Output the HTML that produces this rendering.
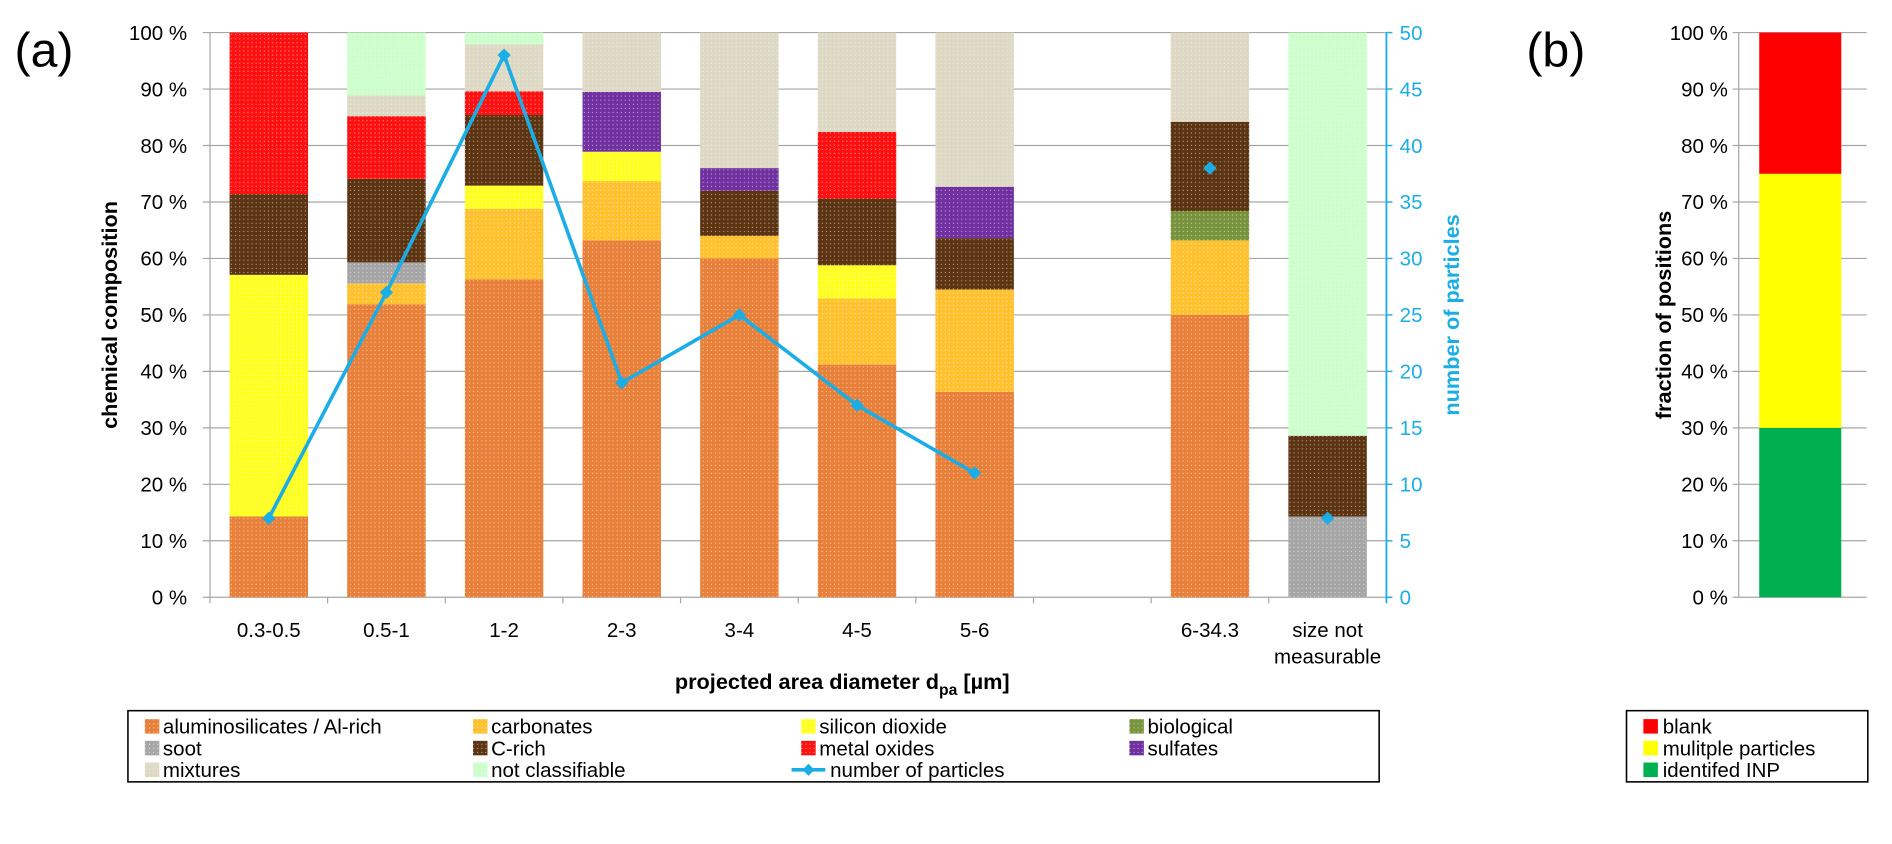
<!DOCTYPE html>
<html><head><meta charset="utf-8">
<style>
html,body{margin:0;padding:0;background:#fff;}
svg{display:block;font-family:"Liberation Sans",Arial,sans-serif;}
</style></head>
<body>
<svg id="chart" width="1892" height="844" viewBox="0 0 1568 699.5" xmlns="http://www.w3.org/2000/svg">
<defs>
<pattern id="dots" width="3.4" height="3.4" patternUnits="userSpaceOnUse">
<rect x="1" y="1" width="0.9" height="0.9" fill="#fff" opacity="0.55"/>
</pattern>
</defs>
<g id="plotA"></g>
<g id="plotB"></g>
</svg>
<script>
const categories = ["0.3-0.5","0.5-1","1-2","2-3","3-4","4-5","5-6","","6-34.3","size not|measurable"];
const seriesNames = ["aluminosilicates / Al-rich","carbonates","silicon dioxide","biological","soot","C-rich","metal oxides","sulfates","mixtures","not classifiable"];
const seriesColors = ["#E8803A","#FFC12E","#FFFF22","#77933C","#A6A6A6","#5C3412","#FF1010","#7030A0","#DDD9C4","#CCFFCC"];
const alum      = [14.3,51.9,56.3,63.2,60.0,41.2,36.4,0,50.0,0];
const carb      = [0,3.7,12.5,10.5,4.0,11.7,18.1,0,13.2,0];
const silicon   = [42.8,0,4.1,5.2,0,5.9,0,0,0,0];
const bio       = [0,0,0,0,0,0,0,0,5.2,0];
const soot      = [0,3.7,0,0,0,0,0,0,0,14.3];
const crich     = [14.3,14.8,12.5,0,8.0,11.8,9.1,0,15.8,14.3];
const metal     = [28.6,11.1,4.2,0,0,11.8,0,0,0,0];
const sulfates  = [0,0,0,10.6,4.0,0,9.1,0,0,0];
const mixtures  = [0,3.7,8.3,10.5,24.0,17.6,27.3,0,15.8,0];
const notclass  = [0,11.1,2.1,0,0,0,0,0,0,71.4];
const particleCounts = [7,27,48,19,25,17,11,null,38,7];
const leftTicks = [0,10,20,30,40,50,60,70,80,90,100];
const rightTicks = [0,5,10,15,20,25,30,35,40,45,50];
const bCategories = ["identifed INP","mulitple particles","blank"];
const bValues = [30,45,25];
const bColors = ["#00B050","#FFFF00","#FF0000"];

const NS="http://www.w3.org/2000/svg";
function mk(tag,attrs,parent,text){const e=document.createElementNS(NS,tag);for(const k in attrs)e.setAttribute(k,attrs[k]);if(text!==undefined)e.textContent=text;parent.appendChild(e);return e;}

const A=document.getElementById('plotA');
const X0=174,X1=1149,Y0=495,Y1=27;
const slot=(X1-X0)/categories.length, bw=65;
const xC=i=>X0+slot*(i+0.5);
const yPct=v=>Y0-(Y0-Y1)*v/100;
const yN=v=>Y0-(Y0-Y1)*v/50;
const GRID='#A6A6A6';

leftTicks.forEach(t=>{
 const g=mk('line',{x1:X0-6,x2:X1,y1:yPct(t),y2:yPct(t),stroke:GRID,'stroke-width':1},A);
 
 
 const el=mk('text',{x:155,y:yPct(t)+6,'text-anchor':'end','font-size':17,fill:'#000'},A,t+' %');
 
 
});
mk('line',{x1:X0,x2:X0,y1:Y1,y2:Y0+5,stroke:GRID,'stroke-width':1},A);
for(let i=1;i<categories.length;i++){mk('line',{x1:X0+slot*i,x2:X0+slot*i,y1:Y0,y2:Y0+5,stroke:GRID,'stroke-width':1},A);}
rightTicks.forEach(t=>{
 mk('line',{x1:X1,x2:X1+5,y1:yN(t),y2:yN(t),stroke:'#1BADE6','stroke-width':1.2},A);
 const el=mk('text',{x:1160,y:yN(t)+6,'font-size':17,fill:'#1BADE6'},A,t);
 
 
});
mk('line',{x1:X1,x2:X1,y1:Y1,y2:Y0+5,stroke:'#1BADE6','stroke-width':1.5},A);

const series=[alum,carb,silicon,bio,soot,crich,metal,sulfates,mixtures,notclass];
categories.forEach((c,i)=>{
 let cum=0;
 series.forEach((s,k)=>{
  const v=s[i]; if(!v)return;
  const y1=yPct(cum+v), y0=yPct(cum); cum+=v;
  const r=mk('rect',{x:xC(i)-bw/2,y:y1,width:bw,height:y0-y1,fill:seriesColors[k]},A);
  
  
  mk('rect',{x:xC(i)-bw/2,y:y1,width:bw,height:y0-y1,fill:'url(#dots)'},A);
 });
 const parts=c.split('|');
 parts.forEach((p,j)=>{
  const t=mk('text',{x:xC(i),y:528+j*22,'text-anchor':'middle','font-size':17},A,p);
  
  
 });
});
let path='';let prev=false;
particleCounts.forEach((v,i)=>{
 if(v===null){prev=false;return;}
 if(i>=8){prev=false;}
 path+=(prev?'L':'M')+xC(i)+' '+yN(v)+' ';
 prev=(i<8);
});
const ln=mk('path',{d:path,fill:'none',stroke:'#1BADE6','stroke-width':3},A);


particleCounts.forEach((v,i)=>{
 if(v===null)return;
 const x=xC(i),y=yN(v);
 const m=mk('path',{d:`M${x} ${y-5.5}L${x+5.5} ${y}L${x} ${y+5.5}L${x-5.5} ${y}Z`,fill:'#1BADE6'},A);
 
 
});
mk('text',{x:12,y:55,'font-size':40},A,'(a)');
const yt=mk('text',{x:0,y:0,'font-size':18,'font-weight':'bold','text-anchor':'middle',transform:'translate(97,261) rotate(-90)'},A,'chemical composition');

const y2t=mk('text',{x:0,y:0,'font-size':18,'font-weight':'bold','text-anchor':'middle',fill:'#1BADE6',transform:'translate(1209,261) rotate(-90)'},A,'number of particles');

const xt=mk('text',{x:698,y:571,'font-size':18,'font-weight':'bold','text-anchor':'middle'},A);

xt.appendChild(document.createTextNode('projected area diameter d'));
mk('tspan',{'font-size':13,dy:5},xt,'pa');
mk('tspan',{dy:-5},xt,' [µm]');

const lg=mk('g',{},A);

mk('rect',{x:106,y:589,width:1037,height:59,fill:'#fff',stroke:'#000','stroke-width':1.3},lg);
const legItems=seriesNames.concat(['number of particles']);
const colX=[120,392,664,936];
legItems.forEach((name,k)=>{
 const col=k%4,row=Math.floor(k/4);
 const x=colX[col],y=602+row*18;
 const g=mk('g',{},lg);
 
 if(k<10){mk('rect',{x:x,y:y-6,width:12,height:12,fill:seriesColors[k]},g);mk('rect',{x:x,y:y-6,width:12,height:12,fill:'url(#dots)'},g);}
 else{mk('line',{x1:x-8,x2:x+20,y1:y,y2:y,stroke:'#1BADE6','stroke-width':3},g);mk('path',{d:`M${x+6} ${y-5}L${x+11} ${y}L${x+6} ${y+5}L${x+1} ${y}Z`,fill:'#1BADE6'},g);}
 mk('text',{x:x+(k<10?15:24),y:y+6,'font-size':17},g,name);
});

const B=document.getElementById('plotB');
mk('text',{x:1265,y:55,'font-size':40},B,'(b)');
leftTicks.forEach(t=>{
 mk('line',{x1:1436,x2:1547,y1:yPct(t),y2:yPct(t),stroke:GRID,'stroke-width':1},B);
 const el=mk('text',{x:1432,y:yPct(t)+6,'text-anchor':'end','font-size':17},B,t+' %');
 
});
mk('line',{x1:1441,x2:1441,y1:Y1,y2:Y0,stroke:GRID,'stroke-width':1},B);
const byt=mk('text',{x:0,y:0,'font-size':18,'font-weight':'bold','text-anchor':'middle',transform:'translate(1385,261) rotate(-90)'},B,'fraction of positions');

let cb=0;
bValues.forEach((v,i)=>{
 const r=mk('rect',{x:1458,y:yPct(cb+v),width:68,height:yPct(cb)-yPct(cb+v),fill:bColors[i]},B);
 
 cb+=v;
});
const lb=mk('g',{},B);

mk('rect',{x:1348,y:589,width:200,height:59,fill:'#fff',stroke:'#000','stroke-width':1.3},lb);
[2,1,0].forEach((k,n)=>{
 const y=602+n*18;
 const g=mk('g',{},lb);
 
 mk('rect',{x:1362,y:y-6,width:12,height:12,fill:bColors[k]},g);
 mk('text',{x:1378,y:y+6,'font-size':17},g,bCategories[k]);
});
</script>
</body></html>
